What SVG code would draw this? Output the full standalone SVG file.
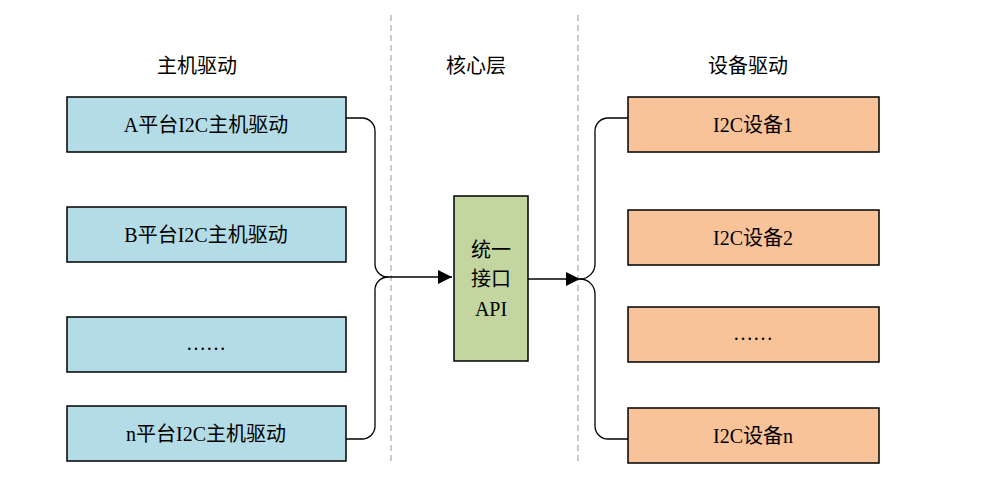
<svg xmlns="http://www.w3.org/2000/svg" width="1007" height="478" viewBox="0 0 1007 478">
<defs>
<style>
text{font-family:"Liberation Serif","Noto Sans CJK SC",serif;font-size:20px;fill:#000;text-anchor:middle}
.l{fill:#b4dce6;stroke:#000;stroke-width:1.5}
.r{fill:#f8c398;stroke:#000;stroke-width:1.5}
.c{fill:none;stroke:#000;stroke-width:1.3}
.d{stroke:#bbb;stroke-width:1.5;stroke-dasharray:6 4}
</style>
<marker id="a" viewBox="0 0 10 10" refX="10" refY="5" markerWidth="14" markerHeight="14" markerUnits="userSpaceOnUse" orient="auto"><path d="M0,0L10,5L0,10z" fill="#000"/></marker>
</defs>
<rect width="1007" height="478" fill="#fff"/>
<g id="dividers"><line class="d" x1="391" y1="15" x2="391" y2="465"/><line class="d" x1="578" y1="15" x2="578" y2="465"/></g>
<g id="headers"><text x="197" y="73">主机驱动</text><text x="476" y="73">核心层</text><text x="748" y="73">设备驱动</text></g>
<g id="hA"><rect class="l" x="67" y="97" width="279" height="55"/><text x="206" y="132">A平台I2C主机驱动</text></g>
<g id="hB"><rect class="l" x="67" y="207" width="279" height="55"/><text x="206" y="242">B平台I2C主机驱动</text></g>
<g id="hDots"><rect class="l" x="67" y="317" width="279" height="55"/><text x="206" y="350">……</text></g>
<g id="hN"><rect class="l" x="67" y="406" width="279" height="55"/><text x="206" y="441">n平台I2C主机驱动</text></g>
<g id="api"><rect x="454" y="196" width="74" height="165" fill="#c4d6a0" stroke="#000" stroke-width="1.5"/><text x="491" y="257">统一</text><text x="491" y="286">接口</text><text x="491" y="316">API</text></g>
<g id="d1"><rect class="r" x="628" y="97" width="251" height="55"/><text x="753" y="132">I2C设备1</text></g>
<g id="d2"><rect class="r" x="628" y="210" width="251" height="55"/><text x="753" y="245">I2C设备2</text></g>
<g id="dDots"><rect class="r" x="628" y="307" width="251" height="55"/><text x="753" y="340">……</text></g>
<g id="dN"><rect class="r" x="628" y="408" width="251" height="55"/><text x="753" y="443">I2C设备n</text></g>
<g id="connectors">
<path class="c" d="M346,118H362A13,13 0 0 1 375,131V264A13,13 0 0 0 388,277"/>
<path class="c" d="M346,439H362A13,13 0 0 0 375,426V290A13,13 0 0 1 388,277"/>
<path class="c" d="M388,277H452" marker-end="url(#a)"/>
<path class="c" d="M528,279H580" marker-end="url(#a)"/>
<path class="c" d="M580,279A15,15 0 0 0 595,264V131A13,13 0 0 1 608,118H628"/>
<path class="c" d="M580,279A15,15 0 0 1 595,294V426A13,13 0 0 0 608,439H628"/>
</g>
</svg>
